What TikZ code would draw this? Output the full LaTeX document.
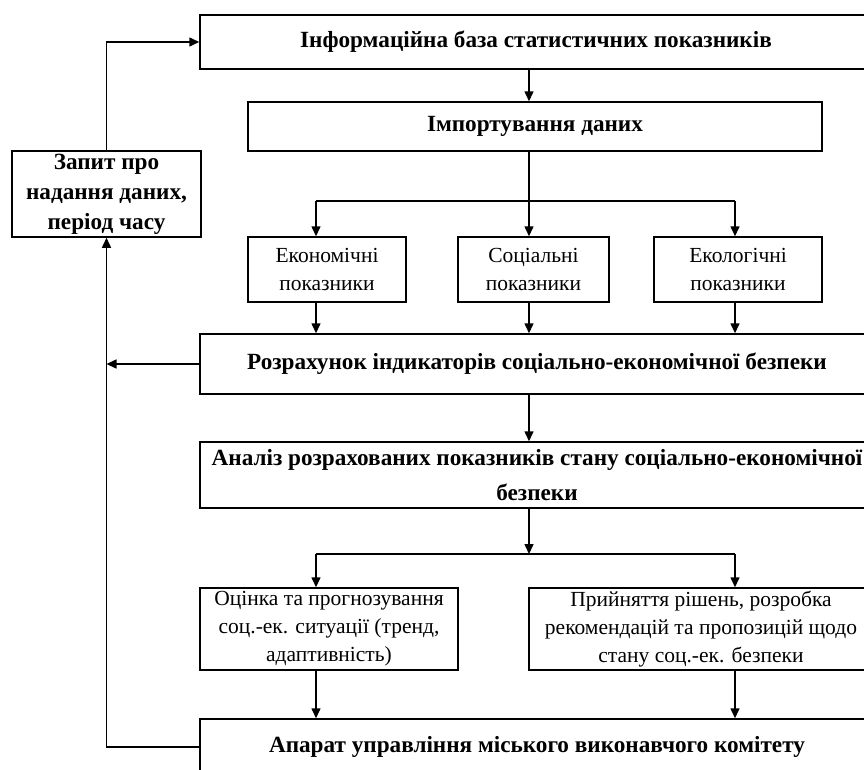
\documentclass[tikz,border=0pt]{standalone}
\usepackage{fontspec}
\setmainfont{Liberation Serif}
\usetikzlibrary{arrows.meta}
\begin{document}
\begin{tikzpicture}[x=1pt,y=-1pt,
  line width=1.5pt,
  boxb/.style={draw, rectangle, inner sep=0pt, align=center, font=\fontsize{23.2}{30}\selectfont\bfseries},
  boxn/.style={draw, rectangle, inner sep=0pt, align=center, font=\fontsize{21.5}{28}\selectfont},
  arr/.style={-{Triangle[length=10pt,width=9pt]}}]
\useasboundingbox (0,0) rectangle (864,769);
\clip (0,0) rectangle (864,769);
% boxes
\node[boxb, minimum width=672pt, minimum height=54pt] (b1) at (536,42) {Інформаційна база статистичних показників};
\node[boxb, minimum width=574pt, minimum height=49pt] (b2) at (535,126.5) {Імпортування даних};
\node[boxb, minimum width=189pt, minimum height=86pt] (zap) at (106.5,194) {Запит про\\надання даних,\\період часу};
\node[boxn, minimum width=158pt, minimum height=65pt] (se) at (327,269.5) {Економічні\\показники};
\node[boxn, minimum width=151pt, minimum height=65pt] (ss) at (533.5,269.5) {Соціальні\\показники};
\node[boxn, minimum width=168pt, minimum height=65pt] (sk) at (738,269.5) {Екологічні\\показники};
\node[boxb, minimum width=674pt, minimum height=60pt] (b3) at (537,364) {Розрахунок індикаторів соціально-економічної безпеки};
\node[boxb, minimum width=674pt, minimum height=66pt, font=\fontsize{23.2}{35}\selectfont\bfseries] (b4) at (537,475) {Аналіз розрахованих показників стану соціально-економічної\\безпеки};
\node[boxn, minimum width=258pt, minimum height=82pt] (b5) at (329,629) {Оцінка та прогнозування\\соц.-ек. ситуації (тренд,\\адаптивність)};
\node[boxn, minimum width=344pt, minimum height=82pt] (b6) at (701,629) {Прийняття рішень, розробка\\рекомендацій та пропозицій щодо\\стану соц.-ек. безпеки};
\node[boxb, minimum width=674pt, minimum height=56pt] (b7) at (537,747) {Апарат управління міського виконавчого комітету};
% guide coordinates
\coordinate (mx) at (529,0);
\coordinate (xl) at (316,0);
\coordinate (xr) at (735,0);
\coordinate (vl) at (106.5,0);
\coordinate (br1) at (529,201);
\coordinate (br2) at (529,554);
% connectors
\draw[arr] (b1.south -| mx) -- (b2.north -| mx);
\draw (b2.south -| mx) -- (br1);
\draw (xl |- br1) -- (xr |- br1);
\draw[arr] (xl |- br1) -- (xl |- se.north);
\draw[arr] (br1) -- (mx |- ss.north);
\draw[arr] (xr |- br1) -- (xr |- sk.north);
\draw[arr] (xl |- se.south) -- (xl |- b3.north);
\draw[arr] (mx |- ss.south) -- (mx |- b3.north);
\draw[arr] (xr |- sk.south) -- (xr |- b3.north);
\draw[arr] (b3.west) -- (vl |- b3.west);
\draw[arr] (b3.south -| mx) -- (b4.north -| mx);
\draw[arr] (b4.south -| mx) -- (br2);
\draw (xl |- br2) -- (xr |- br2);
\draw[arr] (xl |- br2) -- (xl |- b5.north);
\draw[arr] (xr |- br2) -- (xr |- b6.north);
\draw[arr] (xl |- b5.south) -- (xl |- b7.north);
\draw[arr] (xr |- b6.south) -- (xr |- b7.north);
\draw[arr] (b7.west) -| (zap.south);
\draw[arr] (zap.north) |- (b1.west);
\end{tikzpicture}
\end{document}
